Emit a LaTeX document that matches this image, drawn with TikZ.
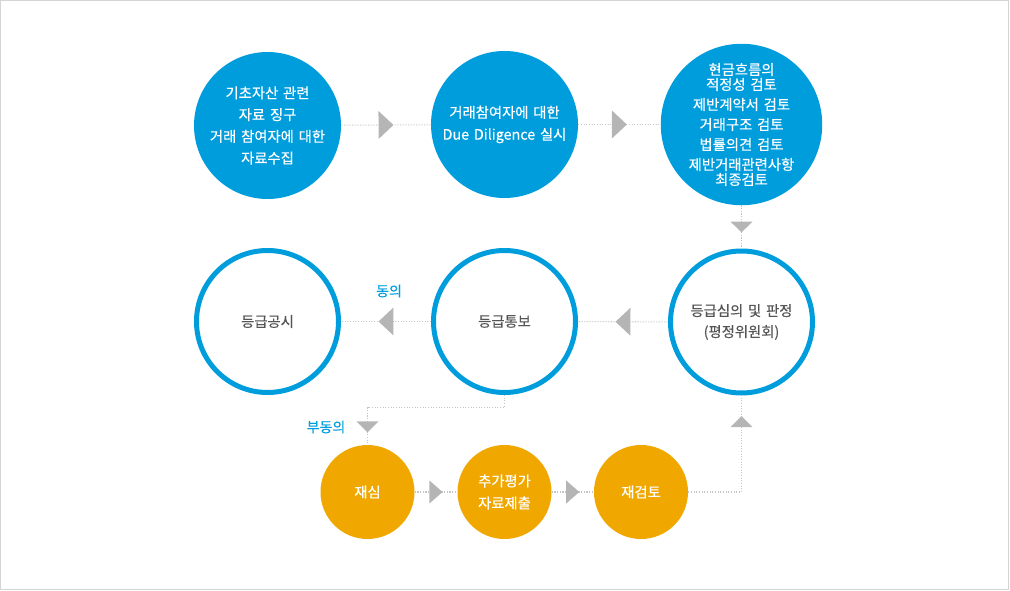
\documentclass[tikz,border=0pt]{standalone}
\usepackage{fontspec}
\setmainfont{Noto Sans CJK KR}[FakeBold=0.35,WordSpace=1.5]
\usetikzlibrary{decorations.markings}
\definecolor{cblue}{HTML}{009DDD}
\definecolor{corange}{HTML}{F0A800}
\definecolor{tgray}{HTML}{555555}
\definecolor{agray}{HTML}{B5B5B5}
\definecolor{dgray}{HTML}{C4C4C4}
\definecolor{bgray}{HTML}{D5D5D5}
\begin{document}
\begin{tikzpicture}[x=0.75pt,y=-0.75pt,
  fillc/.style={circle,fill=cblue,minimum size=110.25pt,inner sep=0pt,text=white,align=center},
  ringc/.style={circle,draw=cblue,line width=3.75pt,minimum size=106.5pt,inner sep=0pt,text=tgray,align=center,font=\fontsize{10.75}{15.75}\selectfont},
  orc/.style={circle,fill=corange,minimum size=70.5pt,inner sep=0pt,text=white,align=center,font=\fontsize{10.75}{16.5}\selectfont},
  lbl/.style={text=cblue,inner sep=0pt,font=\fontsize{10.5}{12}\selectfont},
  dotline/.style={draw=dgray,line width=0.8pt,dash pattern=on 0.8pt off 1.2pt},
  trimark/.style args={#1:#2:#3}{postaction={decorate},decoration={markings,mark=at position #1 with {\fill[agray,solid] (#2,0pt) -- (-#2,#3) -- (-#2,-#3) -- cycle;}}}
]
\useasboundingbox (0,0) rectangle (1010,591);
\draw[bgray,line width=0.75pt] (0.5,0.5) rectangle (1008.5,589.5);

% top row
\node[fillc,font=\fontsize{10.75}{16.3}\selectfont] (c1) at (267.5,125.5) {기초자산 관련\\자료 징구\\거래 참여자에 대한\\자료수집};
\node[fillc,font=\fontsize{10.75}{16.5}\selectfont] (c2) at (504.5,124.5) {거래참여자에 대한\\Due Diligence 실시};
\node[fillc,font=\fontsize{10.75}{11.25}\selectfont] (c3) at (741.5,124.5) {현금흐름의\\적정성 검토\\[3.75pt]제반계약서 검토\\[3.75pt]거래구조 검토\\[3.75pt]법률의견 검토\\[3.75pt]제반거래관련사항\\최종검토};

% middle row
\node[ringc] (r1) at (267.5,321.5) {등급공시};
\node[ringc] (r2) at (504.5,321.5) {등급통보};
\node[ringc] (r3) at (741.5,322) {등급심의 및 판정\\(평정위원회)};

% bottom row
\node[orc] (o1) at (367.5,492) {재심};
\node[orc] (o2) at (504.5,492) {추가평가\\자료제출};
\node[orc] (o3) at (641,492) {재검토};

% labels
\node[lbl] (agree) at (389,291) {동의};
\node[lbl] (disagree) at (326,427) {부동의};

% connectors
\draw[dotline,trimark={0.5:5.6pt:10.5pt}] (c1) -- (c2);
\draw[dotline,trimark={0.5:5.6pt:10.5pt}] (c2) -- (c3);
\draw[dotline,trimark={0.5:4.1pt:8.25pt}] (c3) -- (r3);
\draw[dotline,trimark={0.5:5.6pt:10.5pt}] (r3) -- (r2);
\draw[dotline,trimark={0.5:5.6pt:10.5pt}] (r2) -- (r1);

\coordinate (k1) at (367.5,407.5);
\draw[dotline] (r2.south) |- (k1);
\draw[dotline,trimark={0.52:4.1pt:8.25pt}] (k1) -- (o1.north);

\draw[dotline,trimark={0.5:4.9pt:8.6pt}] (o1) -- (o2);
\draw[dotline,trimark={0.5:4.9pt:8.6pt}] (o2) -- (o3);

\coordinate (k2) at (741.5,492);
\draw[dotline] (o3.east) -- (k2);
\draw[dotline,trimark={0.73:4.1pt:8.25pt}] (k2) -- (r3.south);
\end{tikzpicture}
\end{document}
